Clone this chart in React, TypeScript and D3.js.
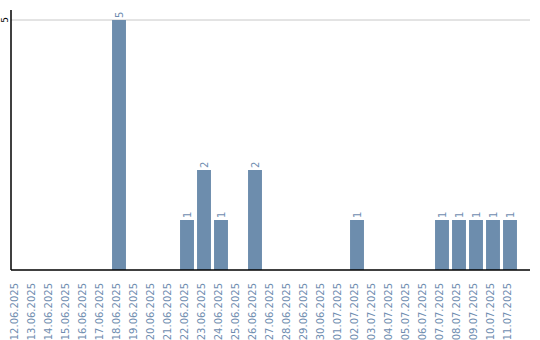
import React from "react";
import * as d3 from "d3";

const dates = [
  "12.06.2025","13.06.2025","14.06.2025","15.06.2025","16.06.2025","17.06.2025",
  "18.06.2025","19.06.2025","20.06.2025","21.06.2025","22.06.2025","23.06.2025",
  "24.06.2025","25.06.2025","26.06.2025","27.06.2025","28.06.2025","29.06.2025",
  "30.06.2025","01.07.2025","02.07.2025","03.07.2025","04.07.2025","05.07.2025",
  "06.07.2025","07.07.2025","08.07.2025","09.07.2025","10.07.2025","11.07.2025",
];
const counts = [
  0,0,0,0,0,0,
  5,0,0,0,1,2,
  1,0,2,0,0,0,
  0,0,1,0,0,0,
  0,1,1,1,1,1,
];
const yTicks = [5];

const W = 540, H = 340;
const left = 11, right = 530, top = 10, bottom = 270;
const barColor = "#6d8dad";
const textColor = "#6f8db0";
const font = "DejaVu Sans, Verdana, sans-serif";

export default function App() {
  const x = d3.scaleBand<string>().domain(dates).range([8.5, 518.5]).paddingInner(0.18).paddingOuter(0.09);
  const y = d3.scaleLinear().domain([0, 5]).range([bottom, 20]);
  return (
    <svg width={W} height={H} style={{ position: "absolute", left: 0, top: 0, display: "block" }}>
      {yTicks.map((t) => (
        <g key={t}>
          <line x1={left} x2={right} y1={y(t)} y2={y(t)} stroke="#c8c8c8" strokeWidth={1} />
          <text transform={`translate(${left - 3},${y(t)}) rotate(-90)`} textAnchor="middle" fontFamily={font} fontSize={9} fill="#000">{t}</text>
        </g>
      ))}
      {dates.map((d, i) => {
        const v = counts[i];
        const cx = (x(d) as number) + x.bandwidth() / 2;
        return (
          <g key={d}>
            {v > 0 && (
              <>
                <rect x={x(d)} y={y(v)} width={x.bandwidth()} height={bottom - y(v)} fill={barColor} />
                <text transform={`translate(${cx + 3.5},${y(v) - 2}) rotate(-90)`} textAnchor="start" fontFamily={font} fontSize={10} fill={textColor}>{v}</text>
              </>
            )}
            <text transform={`translate(${cx + 1},${bottom + 13}) rotate(-90)`} textAnchor="end" fontFamily={font} fontSize={10} fill={textColor}>{d}</text>
          </g>
        );
      })}
      <line x1={left} x2={left} y1={top} y2={bottom} stroke="#000" strokeWidth={1.5} />
      <line x1={left} x2={right} y1={bottom} y2={bottom} stroke="#000" strokeWidth={1.5} />
    </svg>
  );
}
